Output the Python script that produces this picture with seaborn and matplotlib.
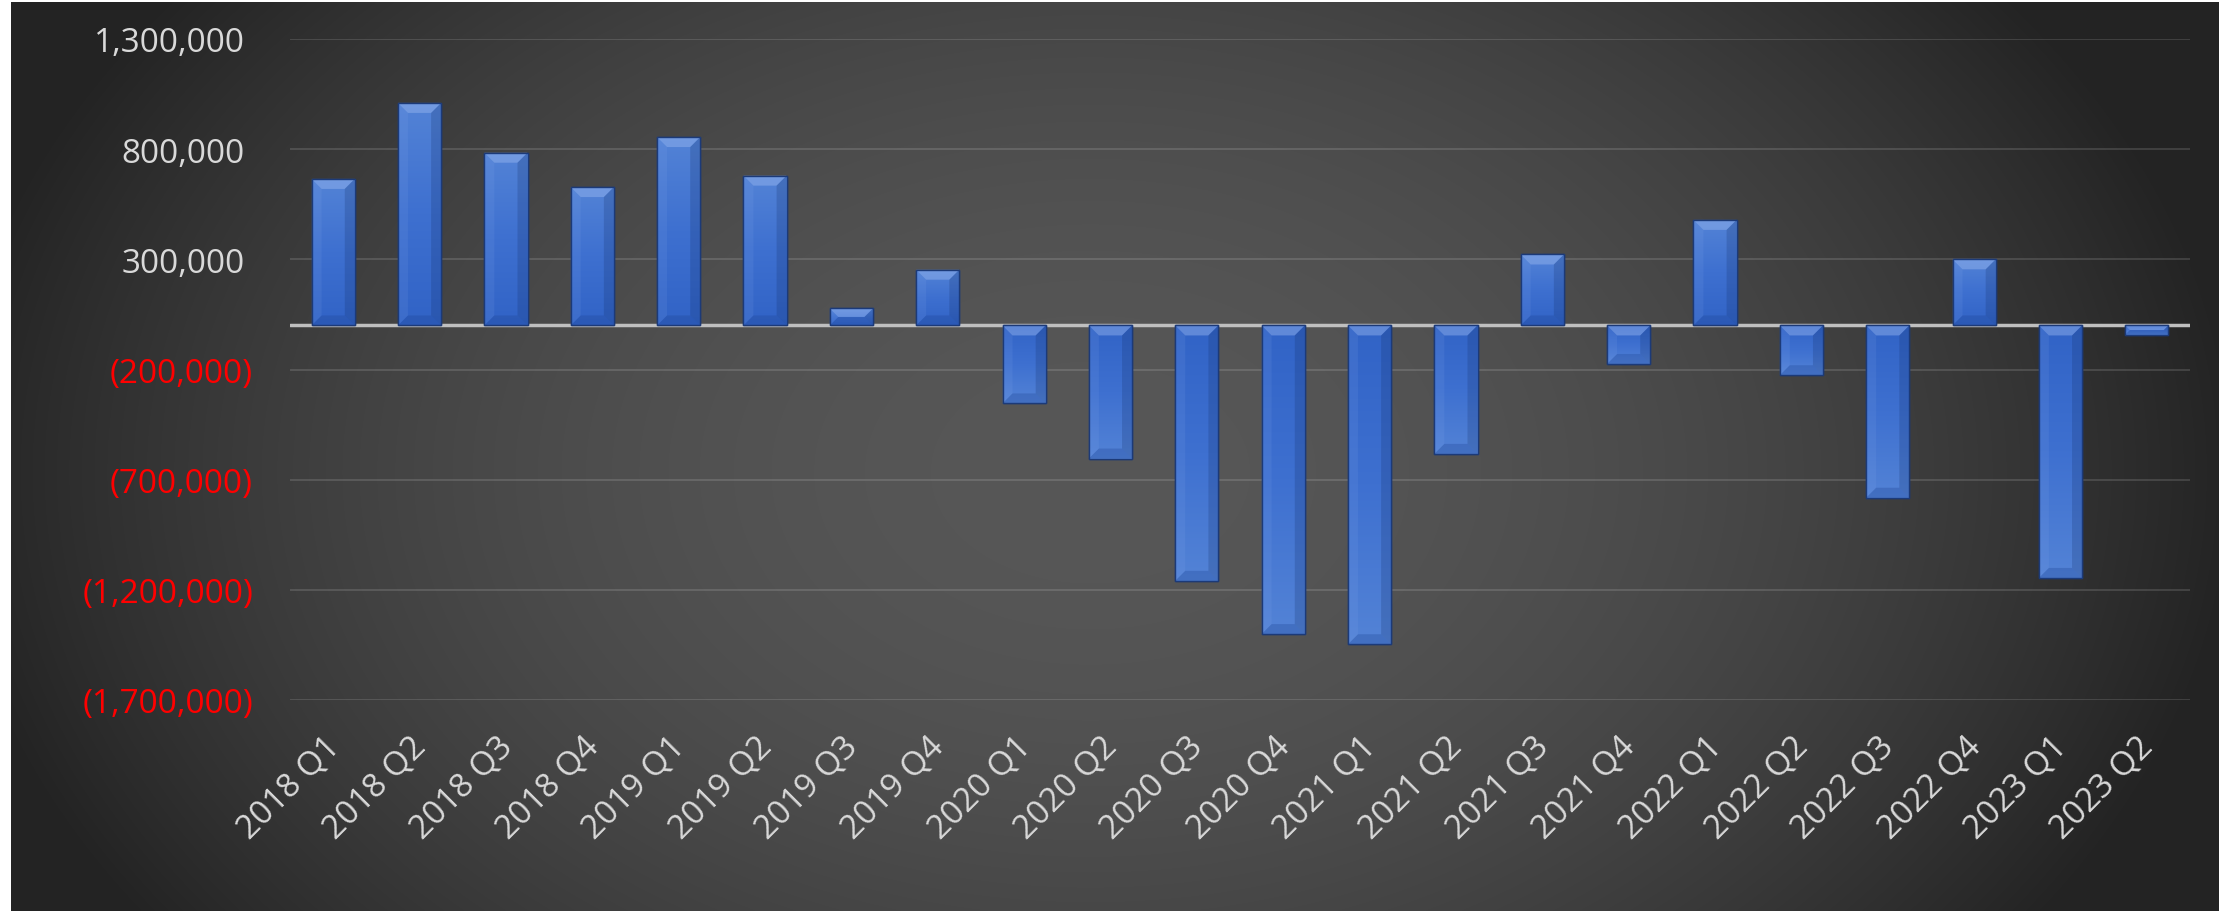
import numpy as np
import pandas as pd
import matplotlib
matplotlib.use("Agg")
import matplotlib.pyplot as plt
import matplotlib.transforms as mtransforms
from matplotlib.colors import LinearSegmentedColormap
from matplotlib.patches import Polygon
import seaborn as sns

quarters = ["2018 Q1", "2018 Q2", "2018 Q3", "2018 Q4",
            "2019 Q1", "2019 Q2", "2019 Q3", "2019 Q4",
            "2020 Q1", "2020 Q2", "2020 Q3", "2020 Q4",
            "2021 Q1", "2021 Q2", "2021 Q3", "2021 Q4",
            "2022 Q1", "2022 Q2", "2022 Q3", "2022 Q4",
            "2023 Q1", "2023 Q2"]
values = [665000, 1010000, 784000, 628000,
          855000, 680000, 77000, 253000,
          -354000, -604000, -1159000, -1401000,
          -1447000, -583000, 322000, -175000,
          479000, -226000, -782000, 300000,
          -1146000, -42000]
y_ticks = [-1700000, -1200000, -700000, -200000, 300000, 800000, 1300000]

df = pd.DataFrame({"quarter": quarters, "value": values})

sns.set_theme(style="white")
plt.rcParams["font.family"] = ["Open Sans", "DejaVu Sans"]

W, H = 2234, 912
fig = plt.figure(figsize=(W / 100, H / 100), dpi=100, facecolor="white")

# dark radial-gradient panel
px0, px1, py_top = 11, 2219, 3
bg = fig.add_axes([px0 / W, 0, (px1 - px0) / W, (H - py_top) / H])
bg.set_axis_off()
gy, gx = np.mgrid[0:H - py_top, 0:px1 - px0]
cx, cy = 1090 - px0, 470
r2 = ((gx - cx) / 1150.0) ** 2 + ((gy - cy) / 800.0) ** 2
f = np.clip(r2, 0, 1)
col = (0x57 - (0x57 - 0x23) * f) / 255.0
img = np.dstack([col, col, col])
bg.imshow(img, aspect="auto", extent=[0, 1, 0, 1], origin="upper")
bg.set_xlim(0, 1)
bg.set_ylim(0, 1)

ax_left, ax_right = 290 / W, 2190 / W
ax_top, ax_bot = 1 - 40 / H, 1 - 701 / H
ax = fig.add_axes([ax_left, ax_bot, ax_right - ax_left, ax_top - ax_bot])
ax.set_facecolor("none")

sns.barplot(data=df, x="quarter", y="value", color="#3f6fcf", saturation=1,
            width=0.5, ax=ax, edgecolor="#1c3a78", linewidth=1.0, zorder=3)

ax.set_ylim(y_ticks[0], y_ticks[-1])
ax.set_xlim(-0.5, len(quarters) - 0.5)
ax.set_autoscale_on(False)

# gradient fill for bars, darker at zero end, lighter at far end
cmap = LinearSegmentedColormap.from_list("barg", ["#3163c6", "#3e70d0", "#5383d6"])
grad = np.linspace(0, 1, 256).reshape(-1, 1)
ident = mtransforms.IdentityTransform()
bars = list(ax.patches)
for p in bars:
    x, w, h = p.get_x(), p.get_width(), p.get_height()
    im = ax.imshow(grad, cmap=cmap, aspect="auto", origin="lower",
                   extent=[x, x + w, 0, h], zorder=3.5, interpolation="bicubic")
    im.set_clip_path(p)
    # bevel in pixel space derived from the bar's own geometry
    (x0, ya), (x1, yb) = ax.transData.transform([(x, 0), (x + w, h)])
    yl, yt = min(ya, yb), max(ya, yb)
    b = min(10.0, (yt - yl) / 2.0)
    s = b
    top = [(x0, yt), (x1, yt), (x1 - s, yt - b), (x0 + s, yt - b)]
    bot = [(x0, yl), (x1, yl), (x1 - s, yl + b), (x0 + s, yl + b)]
    left = [(x0, yl), (x0, yt), (x0 + s, yt - b), (x0 + s, yl + b)]
    right = [(x1, yl), (x1, yt), (x1 - s, yt - b), (x1 - s, yl + b)]
    for pts, c, a in [(top, "#9ab8f0", 0.45), (bot, "#1f4494", 0.30),
                      (left, "#8fb0ee", 0.12), (right, "#132e66", 0.22)]:
        ax.add_patch(Polygon(pts, closed=True, transform=ident, facecolor=c,
                             edgecolor="none", alpha=a, zorder=3.55))
    ax.add_patch(plt.Rectangle((x, 0), w, h, fill=False, edgecolor="#1c3a78",
                               linewidth=1.0, zorder=3.6))

ax.set_yticks(y_ticks)
labels = [f"{v:,}" if v >= 0 else f"({-v:,})" for v in y_ticks]
ax.set_yticklabels(labels)
ax.yaxis.grid(True, color="#ffffff", alpha=0.13, linewidth=1.5)
ax.set_axisbelow(True)
ax.axhline(0, color="#bfbfbf", linewidth=2.5, zorder=2.5)
for s_ in ax.spines.values():
    s_.set_visible(False)

ax.tick_params(axis="y", length=0, pad=26.6, labelsize=24)
ax.tick_params(axis="x", length=0, pad=21, labelsize=24)
for v, t in zip(y_ticks, ax.get_yticklabels()):
    if v < 0:
        t.set_color("#ff0000")
    else:
        t.set_color("#d9d9d9")
        t.set_transform(t.get_transform() + mtransforms.ScaledTranslation(-8 / 100, 0, fig.dpi_scale_trans))

ax.set_xlabel("")
ax.set_ylabel("")
for t in ax.get_xticklabels():
    t.set_rotation(45)
    t.set_ha("right")
    t.set_va("top")
    t.set_rotation_mode("anchor")
    t.set_color("#d9d9d9")
    t.set_transform(t.get_transform() + mtransforms.ScaledTranslation(-10 / 100, 0, fig.dpi_scale_trans))

fig.savefig("out.png", dpi=100, facecolor="white")
